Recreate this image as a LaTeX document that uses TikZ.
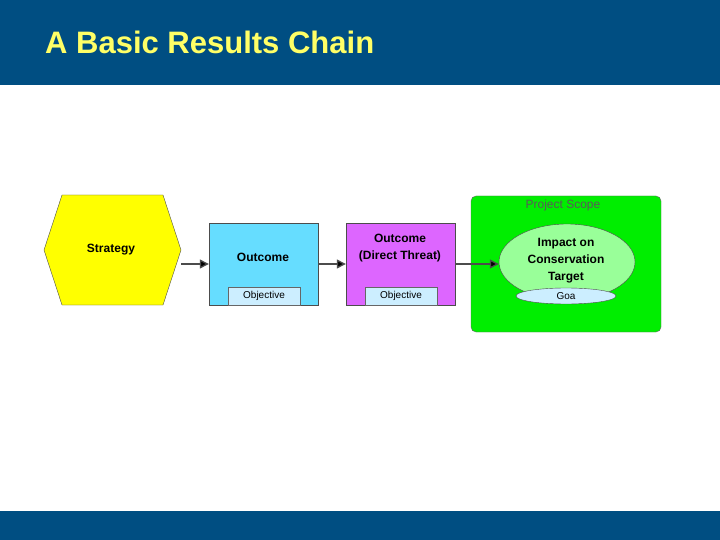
\documentclass[tikz,border=0pt]{standalone}
\usepackage{fontspec}
\setmainfont{Liberation Sans}
\usetikzlibrary{arrows.meta,shapes.geometric}
\definecolor{band}{HTML}{004E82}
\definecolor{ttl}{HTML}{FFFF66}
\definecolor{hexy}{HTML}{FFFF00}
\definecolor{cyanb}{HTML}{66DDFF}
\definecolor{purp}{HTML}{DD66FF}
\definecolor{objb}{HTML}{CCEEFF}
\definecolor{greenb}{HTML}{00EE00}
\definecolor{lgreen}{HTML}{99FF99}
\tikzset{x=1pt,y=-1pt,
 lbl/.style={font=\bfseries\fontsize{12}{17}\selectfont,align=center},
 objbox/.style={draw=black!60,fill=objb,font=\fontsize{10}{12}\selectfont,inner sep=0pt},
 conn/.style={draw=black!70,line width=1.3pt,-{Triangle[length=9pt,width=9pt,fill=black]}}}
\begin{document}
\begin{tikzpicture}
\useasboundingbox (0,0) rectangle (720,540);
\fill[white] (0,0) rectangle (720,540);
\fill[band] (0,0) rectangle (720,85);
\fill[band] (0,511) rectangle (720,540);
\node[anchor=west,text=ttl,font=\bfseries\fontsize{31}{36}\selectfont,inner sep=0pt] (title) at (45,42) {A Basic Results Chain};
% hexagon
\draw[fill=hexy,draw=black!70] (44,250) -- (62,195) -- (163,195) -- (181,250) -- (163,305) -- (62,305) -- cycle;
\coordinate (hexr) at (181,264);
\node[lbl] (strat) at (111,250) {Strategy};
% outcome
\node[draw=black!70,fill=cyanb,minimum width=109pt,minimum height=82pt,inner sep=0pt] (out1) at (263.5,264) {};
\node[lbl] (o1t) at (263,257) {Outcome};
\node[objbox,minimum width=72pt,minimum height=18pt] (obj1) at (264,296) {Objective};
% direct threat
\node[draw=black!70,fill=purp,minimum width=109pt,minimum height=82pt,inner sep=0pt] (out2) at (400.5,264) {};
\node[lbl] (o2t) at (400,248.5) {Outcome\\(Direct Threat)};
\node[objbox,minimum width=72pt,minimum height=18pt] (obj2) at (401,296) {Objective};
% scope
\node[draw=black!60,fill=greenb,rounded corners=5pt,minimum width=190pt,minimum height=136pt,inner sep=0pt] (scope) at (566,264) {};
\node[text=black!65,font=\fontsize{12}{14}\selectfont] (scl) at (563,205) {Project Scope};
\node[ellipse,draw=black!70,fill=lgreen,minimum width=136pt,minimum height=76pt,inner sep=0pt] (imp) at (567,262) {};
\node[lbl] (impt) at (566,261) {Impact on\\Conservation\\Target};
\node[ellipse,draw=black!70,fill=objb,minimum width=100pt,minimum height=16pt,inner sep=0pt,font=\fontsize{10}{12}\selectfont] (goal) at (566,296) {Goa};
% connectors
\draw[conn] (hexr) -- (out1.west |- hexr);
\draw[conn] (out1.east) -- (out2.west);
\draw[conn] (out2.east) -- (imp.west |- out2.east);
\end{tikzpicture}
\end{document}
